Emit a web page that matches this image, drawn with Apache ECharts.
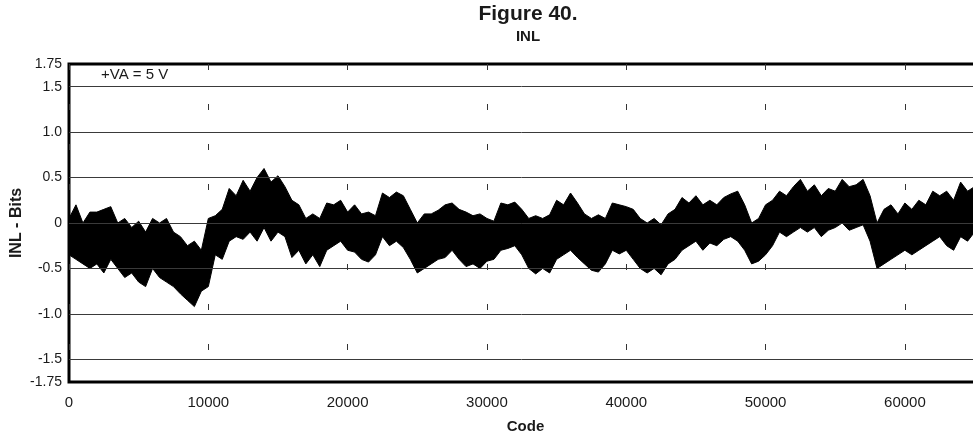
<!DOCTYPE html>
<html>
<head>
<meta charset="utf-8">
<title>Figure 40. INL</title>
<script src="https://cdn.jsdelivr.net/npm/echarts@6/dist/echarts.min.js"></script>
<style>
  html, body { margin: 0; padding: 0; background: #fff; }
  #chart { width: 973px; height: 438px; }
</style>
</head>
<body>
<div id="chart"></div>
<script>
// code step between envelope samples
var codeStep = 500

// upper edge of the INL band (bits), one value per 500 codes
var inlUpper = [
  0.05, 0.2, 0.0, 0.12, 0.12, 0.15, 0.18, 0.0, 0.05, -0.05,
  0.02, -0.1, 0.05, 0.0, 0.05, -0.1, -0.15, -0.25, -0.2, -0.3,
  0.05, 0.08, 0.15, 0.38, 0.3, 0.47, 0.35, 0.5, 0.6, 0.45,
  0.52, 0.4, 0.25, 0.2, 0.05, 0.1, 0.05, 0.22, 0.2, 0.25,
  0.12, 0.2, 0.1, 0.12, 0.08, 0.33, 0.28, 0.34, 0.3, 0.15,
  0.0, 0.1, 0.1, 0.14, 0.2, 0.22, 0.15, 0.12, 0.08, 0.1,
  0.05, 0.02, 0.22, 0.2, 0.23, 0.15, 0.05, 0.08, 0.05, 0.09,
  0.25, 0.2, 0.33, 0.22, 0.1, 0.05, 0.09, 0.05, 0.22, 0.2,
  0.18, 0.15, 0.05, 0.0, 0.05, -0.02, 0.1, 0.15, 0.28, 0.22,
  0.3, 0.2, 0.25, 0.2, 0.28, 0.32, 0.35, 0.2, 0.0, 0.05,
  0.2, 0.25, 0.35, 0.3, 0.4, 0.48, 0.35, 0.42, 0.3, 0.38,
  0.35, 0.48, 0.4, 0.42, 0.48, 0.3, 0.0, 0.15, 0.2, 0.1,
  0.22, 0.15, 0.25, 0.2, 0.35, 0.3, 0.35, 0.25, 0.45, 0.35,
  0.4, 0.3
]

// lower edge of the INL band (bits)
var inlLower = [
  -0.35, -0.4, -0.45, -0.5, -0.45, -0.55, -0.4, -0.5, -0.6, -0.55,
  -0.65, -0.7, -0.5, -0.6, -0.65, -0.7, -0.78, -0.85, -0.92, -0.75,
  -0.7, -0.35, -0.4, -0.2, -0.15, -0.18, -0.1, -0.2, -0.05, -0.2,
  -0.1, -0.15, -0.38, -0.3, -0.45, -0.35, -0.48, -0.3, -0.25, -0.2,
  -0.3, -0.32, -0.4, -0.43, -0.35, -0.15, -0.25, -0.2, -0.27, -0.4,
  -0.55, -0.5, -0.45, -0.4, -0.38, -0.3, -0.4, -0.48, -0.45, -0.5,
  -0.42, -0.4, -0.3, -0.28, -0.25, -0.35, -0.5, -0.56, -0.5, -0.55,
  -0.4, -0.35, -0.3, -0.38, -0.45, -0.52, -0.54, -0.45, -0.3, -0.34,
  -0.3, -0.4, -0.5, -0.55, -0.5, -0.57, -0.45, -0.4, -0.3, -0.25,
  -0.2, -0.3, -0.22, -0.25, -0.18, -0.15, -0.2, -0.3, -0.45, -0.42,
  -0.35, -0.25, -0.1, -0.15, -0.1, -0.05, -0.1, -0.05, -0.15, -0.08,
  -0.05, 0.0, -0.08, -0.05, -0.02, -0.2, -0.5, -0.45, -0.4, -0.35,
  -0.3, -0.35, -0.3, -0.25, -0.2, -0.15, -0.25, -0.3, -0.15, -0.2,
  -0.1, -0.2
]

var xTickValues = [0, 10000, 20000, 30000, 40000, 50000, 60000]
var yLabelValues = [-1.75, -1.5, -1, -0.5, 0, 0.5, 1, 1.5, 1.75]
var yLabelTexts = ['-1.75', '-1.5', '-1.0', '-0.5', '0', '0.5', '1.0', '1.5', '1.75']
var yGridValues = [-1.5, -1, -0.5, 0, 0.5, 1, 1.5]

var font = "'Liberation Sans', Arial, sans-serif"

var bandData = inlUpper.map(function (v, i) { return [i * codeStep, inlLower[i], v] })

var chart = echarts.init(document.getElementById('chart'))

chart.setOption({
  animation: false,
  backgroundColor: '#fff',
  title: {
    text: 'Figure 40.',
    subtext: 'INL',
    left: 528,
    top: 4,
    textAlign: 'center',
    padding: 0,
    itemGap: 4,
    textStyle: { fontFamily: font, fontSize: 21, fontWeight: 'bold', color: '#1a1a1a' },
    subtextStyle: { fontFamily: font, fontSize: 15, fontWeight: 'bold', color: '#1a1a1a' }
  },
  grid: {
    left: 69,
    top: 64,
    width: 913,
    height: 318,
    containLabel: false,
    outerBoundsMode: 'none',
    show: true,
    borderColor: '#000',
    borderWidth: 3,
    backgroundColor: '#fff'
  },
  xAxis: {
    type: 'value',
    min: 0,
    max: 65535,
    interval: 10000,
    name: 'Code',
    nameLocation: 'middle',
    nameGap: 37,
    nameMoveOverlap: false,
    nameTextStyle: { fontFamily: font, fontSize: 15, fontWeight: 'bold', color: '#1a1a1a' },
    axisLine: { show: false },
    axisTick: { show: false },
    axisLabel: {
      margin: 13,
      fontFamily: font,
      fontSize: 15,
      color: '#1a1a1a',
      formatter: function (v) {
        return xTickValues.indexOf(v) >= 0 ? String(v) : ''
      }
    },
    splitLine: {
      show: true,
      lineStyle: { color: '#333', width: 1, type: [6, 34] }
    }
  },
  yAxis: {
    type: 'value',
    min: -1.75,
    max: 1.75,
    interval: 0.25,
    name: 'INL - Bits',
    nameLocation: 'middle',
    nameRotate: 90,
    nameGap: 44,
    nameMoveOverlap: false,
    nameTextStyle: { fontFamily: font, fontSize: 16, fontWeight: 'bold', color: '#1a1a1a' },
    axisLine: { show: false },
    axisTick: { show: false },
    splitLine: { show: false },
    axisLabel: {
      margin: 7,
      fontFamily: font,
      fontSize: 14,
      color: '#1a1a1a',
      formatter: function (v) {
        for (var i = 0; i < yLabelValues.length; i++) {
          if (Math.abs(yLabelValues[i] - v) < 1e-9) return yLabelTexts[i]
        }
        return ''
      }
    }
  },
  graphic: [
    {
      type: 'text',
      left: 101,
      top: 67,
      style: { text: '+VA = 5 V', fontFamily: font, fontSize: 15, fill: '#1a1a1a' }
    }
  ],
  series: [
    {
      name: 'grid',
      type: 'line',
      data: [],
      z: 1,
      silent: true,
      markLine: {
        silent: true,
        symbol: ['none', 'none'],
        label: { show: false },
        lineStyle: { color: '#3a3a3a', width: 1, type: 'solid' },
        data: yGridValues.map(function (v) { return { yAxis: v } })
      }
    },
    {
      // INL band: polygon through the upper edge and back along the lower edge
      name: 'INL',
      type: 'custom',
      z: 3,
      silent: true,
      data: bandData,
      encode: { x: 0, y: [1, 2] },
      renderItem: function (params, api) {
        if (params.dataIndex !== 0) return
        var pts = []
        var i
        for (i = 0; i < bandData.length; i++) {
          pts.push(api.coord([bandData[i][0], bandData[i][2]]))
        }
        for (i = bandData.length - 1; i >= 0; i--) {
          pts.push(api.coord([bandData[i][0], bandData[i][1]]))
        }
        return {
          type: 'polygon',
          shape: { points: pts },
          style: { fill: '#000', stroke: '#000', lineWidth: 1 }
        }
      }
    }
  ]
})
</script>
</body>
</html>
